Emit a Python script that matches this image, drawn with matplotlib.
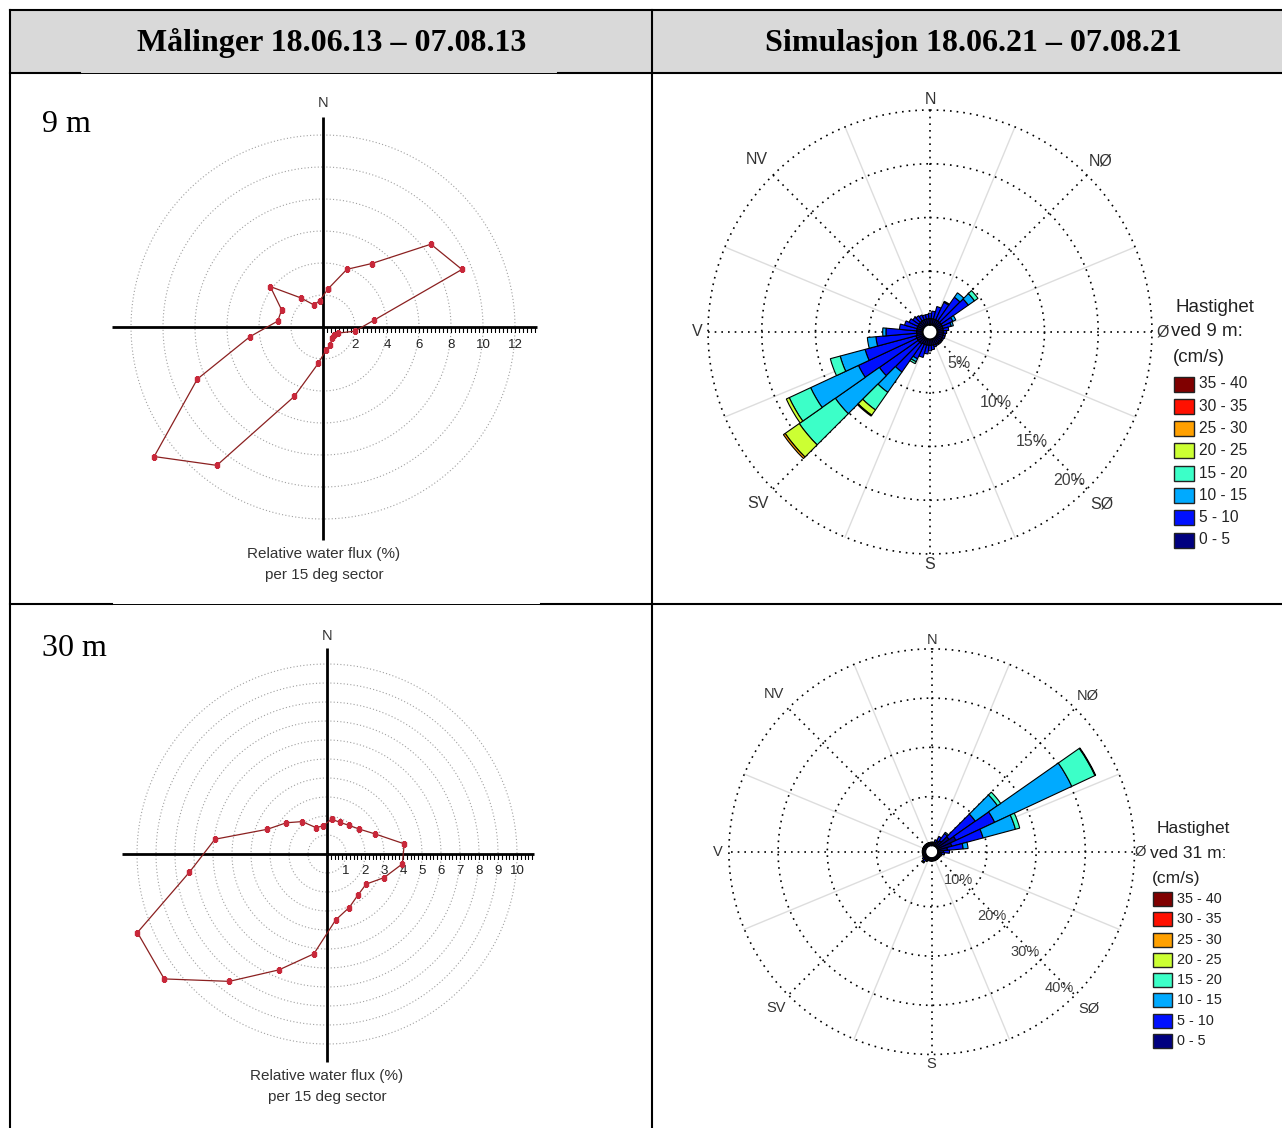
import numpy as np
import matplotlib
matplotlib.use("Agg")
import matplotlib.pyplot as plt
from matplotlib.patches import Rectangle
from matplotlib.transforms import ScaledTranslation

W, H = 1282, 1128

# measured relative water flux (%) per 15 deg sector (sector centres 7.5, 22.5, ...)
sector_deg = np.arange(7.5, 360, 15)
flux_9m = [2.4, 3.9, 5.0, 8.5, 9.4, 3.2, 2.0, 1.0, 0.85, 0.9, 1.2, 1.45,
           2.3, 4.7, 10.9, 13.3, 8.5, 4.6, 2.85, 2.8, 4.15, 2.3, 1.5, 1.65]
flux_30m = [1.85, 1.8, 1.9, 2.15, 2.75, 4.1, 4.0, 3.25, 2.6, 2.7, 3.05, 3.5,
            5.3, 6.6, 8.45, 10.8, 10.8, 7.3, 5.95, 3.4, 2.7, 2.15, 1.5, 1.5]

# simulated current rose, 10 deg sectors, % of time per speed class
rose_dir = np.arange(0, 360, 10)
speed_labels = ["0 - 5", "5 - 10", "10 - 15", "15 - 20", "20 - 25",
                "25 - 30", "30 - 35", "35 - 40"]
speed_colors = ["#000080", "#0010ff", "#00aaff", "#3cffc8", "#ccff33",
                "#ffa000", "#ff1000", "#800000"]

r9_0_5 = [0.6, 0.6, 0.6, 0.6, 0.6, 0.6, 0.6, 0.6, 0.6, 0.6, 0.6, 0.6,
          0.6, 0.6, 0.6, 0.6, 0.6, 0.6, 0.6, 0.6, 0.6, 0.6, 0.7, 0.7,
          0.7, 0.7, 0.6, 0.6, 0.6, 0.6, 0.6, 0.6, 0.6, 0.6, 0.6, 0.6]
r9_5_10 = [0.5, 0.7, 1.2, 1.8, 2.7, 3.1, 1.1, 0.8, 0.5, 0.3, 0.2, 0.2,
           0.15, 0.15, 0.15, 0.15, 0.2, 0.4, 0.5, 0.8, 1.2, 1.5, 3.2, 4.4,
           6.0, 4.9, 3.8, 2.85, 1.6, 1.2, 0.9, 0.7, 0.6, 0.5, 0.4, 0.4]
r9_10_15 = [0, 0, 0, 0.1, 0.5, 0.7, 0.3, 0.2, 0, 0, 0, 0,
            0, 0, 0, 0, 0, 0, 0, 0, 0, 0.3, 2.3, 5.0,
            4.9, 2.4, 0.8, 0.3, 0, 0, 0, 0, 0, 0, 0, 0]
r9_15_20 = [0, 0, 0, 0, 0, 0.4, 0, 0, 0, 0, 0, 0,
            0, 0, 0, 0, 0, 0, 0, 0, 0, 0.2, 2.0, 4.1,
            2.2, 0.95, 0, 0, 0, 0, 0, 0, 0, 0, 0, 0]
r9_20_25 = [0] * 22 + [0.6, 1.6, 0.3] + [0] * 11
r9_25_30 = [0] * 22 + [0.1, 0.2] + [0] * 12

r31_0_5 = [0.6, 0.6, 0.8, 1.2, 1.5, 3.1, 4.2, 3.0, 2.0, 1.2, 0.8, 0.6,
           0.6, 0.6, 0.6, 0.6, 0.6, 0.6, 0.6, 0.6, 0.6, 0.7, 0.8, 0.7,
           0.6, 0.6, 0.6, 0.6, 0.6, 0.6, 0.6, 0.6, 0.6, 0.6, 0.6, 0.6]
r31_5_10 = [0.15, 0.15, 0.5, 1.0, 1.8, 6.5, 8.7, 6.6, 3.2, 1.2, 0.6, 0.3,
            0.15, 0.1, 0.1, 0.1, 0.1, 0.1, 0.1, 0.1, 0.1, 0.3, 0.6, 0.4,
            0.2, 0.1, 0.1, 0.1, 0.1, 0.1, 0.1, 0.1, 0.1, 0.1, 0.1, 0.1]
r31_10_15 = [0, 0, 0, 0, 0.3, 5.5, 17.3, 6.8, 1.0, 0, 0, 0,
             0, 0, 0, 0, 0, 0, 0, 0, 0, 0, 0.2, 0,
             0, 0, 0, 0, 0, 0, 0, 0, 0, 0, 0, 0]
r31_15_20 = [0] * 5 + [0.8, 5.2, 0.9] + [0] * 28
r31_20_25 = [0] * 6 + [0.15] + [0] * 29

SANS = "Liberation Sans"
SERIF = "Liberation Serif"

fig = plt.figure(figsize=(W / 100, H / 100), dpi=100)

# table / page background in pixel coordinates
bg = fig.add_axes([0, 0, 1, 1])
bg.set_xlim(0, W)
bg.set_ylim(H, 0)
bg.axis("off")
bg.add_patch(Rectangle((10, 10), W - 10, 63, fc="#d9d9d9", ec="none"))
lw_t = 1.5
bg.plot([10, 10], [10, H], "k", lw=lw_t)
bg.plot([10, W], [10, 10], "k", lw=lw_t)
bg.plot([652, 652], [10, H], "k", lw=lw_t)
bg.plot([10, 80], [73, 73], "k", lw=lw_t)
bg.plot([80, 558], [72.5, 72.5], "k", lw=0.7)
bg.plot([558, W], [73, 73], "k", lw=lw_t)
bg.plot([10, 112], [604, 604], "k", lw=lw_t)
bg.plot([112, 541], [603.5, 603.5], "k", lw=0.7)
bg.plot([541, W], [604, 604], "k", lw=lw_t)

bg.text(332, 43, "Målinger 18.06.13 – 07.08.13", ha="center", va="center",
        fontsize=23, fontweight="bold", family=SERIF)
bg.text(973, 43, "Simulasjon 18.06.21 – 07.08.21", ha="center", va="center",
        fontsize=23, fontweight="bold", family=SERIF)
bg.text(42, 124, "9 m", ha="left", va="center", fontsize=23, family=SERIF)
bg.text(42, 649, "30 m", ha="left", va="center", fontsize=23, family=SERIF)

for cx, cy in [(324, 554), (327, 1076)]:
    bg.text(cx, cy, "Relative water flux (%)", ha="center", va="center",
            fontsize=11, family=SANS, color="#333333")
    bg.text(cx, cy + 21, "per 15 deg sector", ha="center", va="center",
            fontsize=11, family=SANS, color="#333333")


def polar_axes(cx, cy, radius):
    rect = [(cx - radius) / W, (H - cy - radius) / H, 2 * radius / W, 2 * radius / H]
    ax = fig.add_axes(rect, projection="polar")
    ax.set_theta_zero_location("N")
    ax.set_theta_direction(-1)
    ax.set_xticks([])
    ax.set_yticks([])
    ax.grid(False)
    ax.spines["polar"].set_visible(False)
    ax.patch.set_visible(False)
    return ax


full = np.linspace(0, 2 * np.pi, 721)


def draw_flux(cx, cy, unit, rmax, values, rings, arms, minor_step, labels, label_dy):
    ax = polar_axes(cx, cy, rmax * unit)
    ax.set_ylim(0, rmax)
    for rr in rings:
        ax.plot(full, np.full_like(full, rr), color="#a0a0a0", lw=0.8,
                ls=(0, (1, 2)), zorder=1)
    for ang, length in zip([0, 90, 180, 270], arms):
        ax.plot([np.deg2rad(ang)] * 2, [0, length], color="k", lw=2.0,
                solid_capstyle="butt", zorder=2)
    minor = np.arange(minor_step, arms[1] - 0.1, minor_step)
    ax.plot(np.full(len(minor), np.pi / 2), minor, ls="none", marker=3,
            ms=3.5, mew=0.8, color="k", zorder=2)
    off = ax.transData + ScaledTranslation(0, -label_dy / 72, fig.dpi_scale_trans)
    for v in labels:
        ax.text(np.pi / 2, v, str(v), ha="center", va="center", fontsize=9.5,
                family=SANS, color="#222222", transform=off)
    ax.text(0, rmax, "N", ha="center", va="center", fontsize=10.5,
            family=SANS, color="#333333")
    th = np.deg2rad(np.append(sector_deg, sector_deg[0]))
    rv = np.append(values, values[0])
    ax.plot(th, rv, color="#8b2020", lw=0.9, marker="s", ms=2.6,
            mfc="#c8283a", mec="#c8283a", zorder=3)


draw_flux(323, 327, 16, 14, flux_9m, range(2, 13, 2), [13.1, 13.4, 13.3, 13.2],
          0.25, range(2, 13, 2), 13)
draw_flux(327, 854, 19, 11.5, flux_30m, range(1, 11), [10.85, 10.9, 10.95, 10.8],
          0.2, range(1, 11), 12.2)


def draw_rose(cx, cy, px_pct, r0, rmax, classes, rings, names_r, pct_shift, fs):
    ax = polar_axes(cx, cy, px_pct * (rmax - r0))
    ax.set_ylim(0, rmax)
    ax.set_rorigin(r0)
    for a in np.arange(22.5, 360, 45):
        ax.plot([np.deg2rad(a)] * 2, [0, rings[-1]], color="#dddddd", lw=1, zorder=1)
    for a in range(0, 360, 45):
        ax.plot([np.deg2rad(a)] * 2, [0, rings[-1]], color="k", lw=1.2,
                ls=(0, (1, 3)), zorder=1)
    for rr in rings:
        ax.plot(full, np.full_like(full, rr), color="k", lw=1.2,
                ls=(0, (1, 3)), zorder=1)
    theta = np.deg2rad(rose_dir)
    bottom = np.zeros(len(rose_dir))
    for vals, col in zip(classes, speed_colors):
        vals = np.asarray(vals, dtype=float)
        m = vals > 0
        ax.bar(theta[m], vals[m], width=np.deg2rad(10), bottom=bottom[m],
               color=col, edgecolor="k", linewidth=0.8, zorder=3)
        bottom += vals
    names = ["N", "NØ", "Ø", "SØ", "S", "SV", "V", "NV"]
    for i, (nm, rr) in enumerate(zip(names, names_r)):
        ax.text(np.deg2rad(45 * i), rr, nm, ha="center", va="center",
                fontsize=fs, family=SANS, color="#333333")
    for rr in rings:
        ax.text(np.deg2rad(137), rr - pct_shift, f"{rr}%", ha="center",
                va="center", fontsize=fs, family=SANS, color="#404040")


draw_rose(930, 332, 10.75, -0.65, 22,
          [r9_0_5, r9_5_10, r9_10_15, r9_15_20, r9_20_25, r9_25_30],
          [5, 10, 15, 20], [21.0, 21.8, 21.0, 21.95, 21.0, 21.95, 21.0, 22.1],
          1.7, 11.5)
draw_rose(931.7, 851.7, 4.92, -1.22, 44,
          [r31_0_5, r31_5_10, r31_10_15, r31_15_20, r31_20_25],
          [10, 20, 30, 40], [41.9, 43.6, 41.1, 43.9, 41.9, 43.6, 42.3, 44.0],
          3.3, 10.5)


def draw_legend(title_x, title_y, depth, fs_t, fs_l, px, pw, ph, rows_y, text_x):
    bg.text(title_x, title_y, "Hastighet", ha="center", va="center",
            fontsize=fs_t, family=SANS, color="#222222")
    bg.text(px - 3, title_y + 25, f"ved {depth} m:", ha="left", va="center",
            fontsize=fs_t, family=SANS, color="#222222")
    bg.text(px - 1, title_y + 50, "(cm/s)", ha="left", va="center",
            fontsize=fs_t, family=SANS, color="#222222")
    for lab, col, y in zip(speed_labels[::-1], speed_colors[::-1], rows_y):
        bg.add_patch(Rectangle((px, y - ph / 2), pw, ph, fc=col, ec="#222222", lw=1))
        bg.text(text_x, y, lab, ha="left", va="center", fontsize=fs_l,
                family=SANS, color="#222222")


draw_legend(1215, 307, 9, 13.5, 11.2, 1174, 20, 15,
            np.linspace(384, 540, 8), 1199)
draw_legend(1193, 828, 31, 12.5, 10.4, 1153, 19, 14,
            np.linspace(899, 1041, 8), 1177)

fig.savefig("out.png", dpi=100)
